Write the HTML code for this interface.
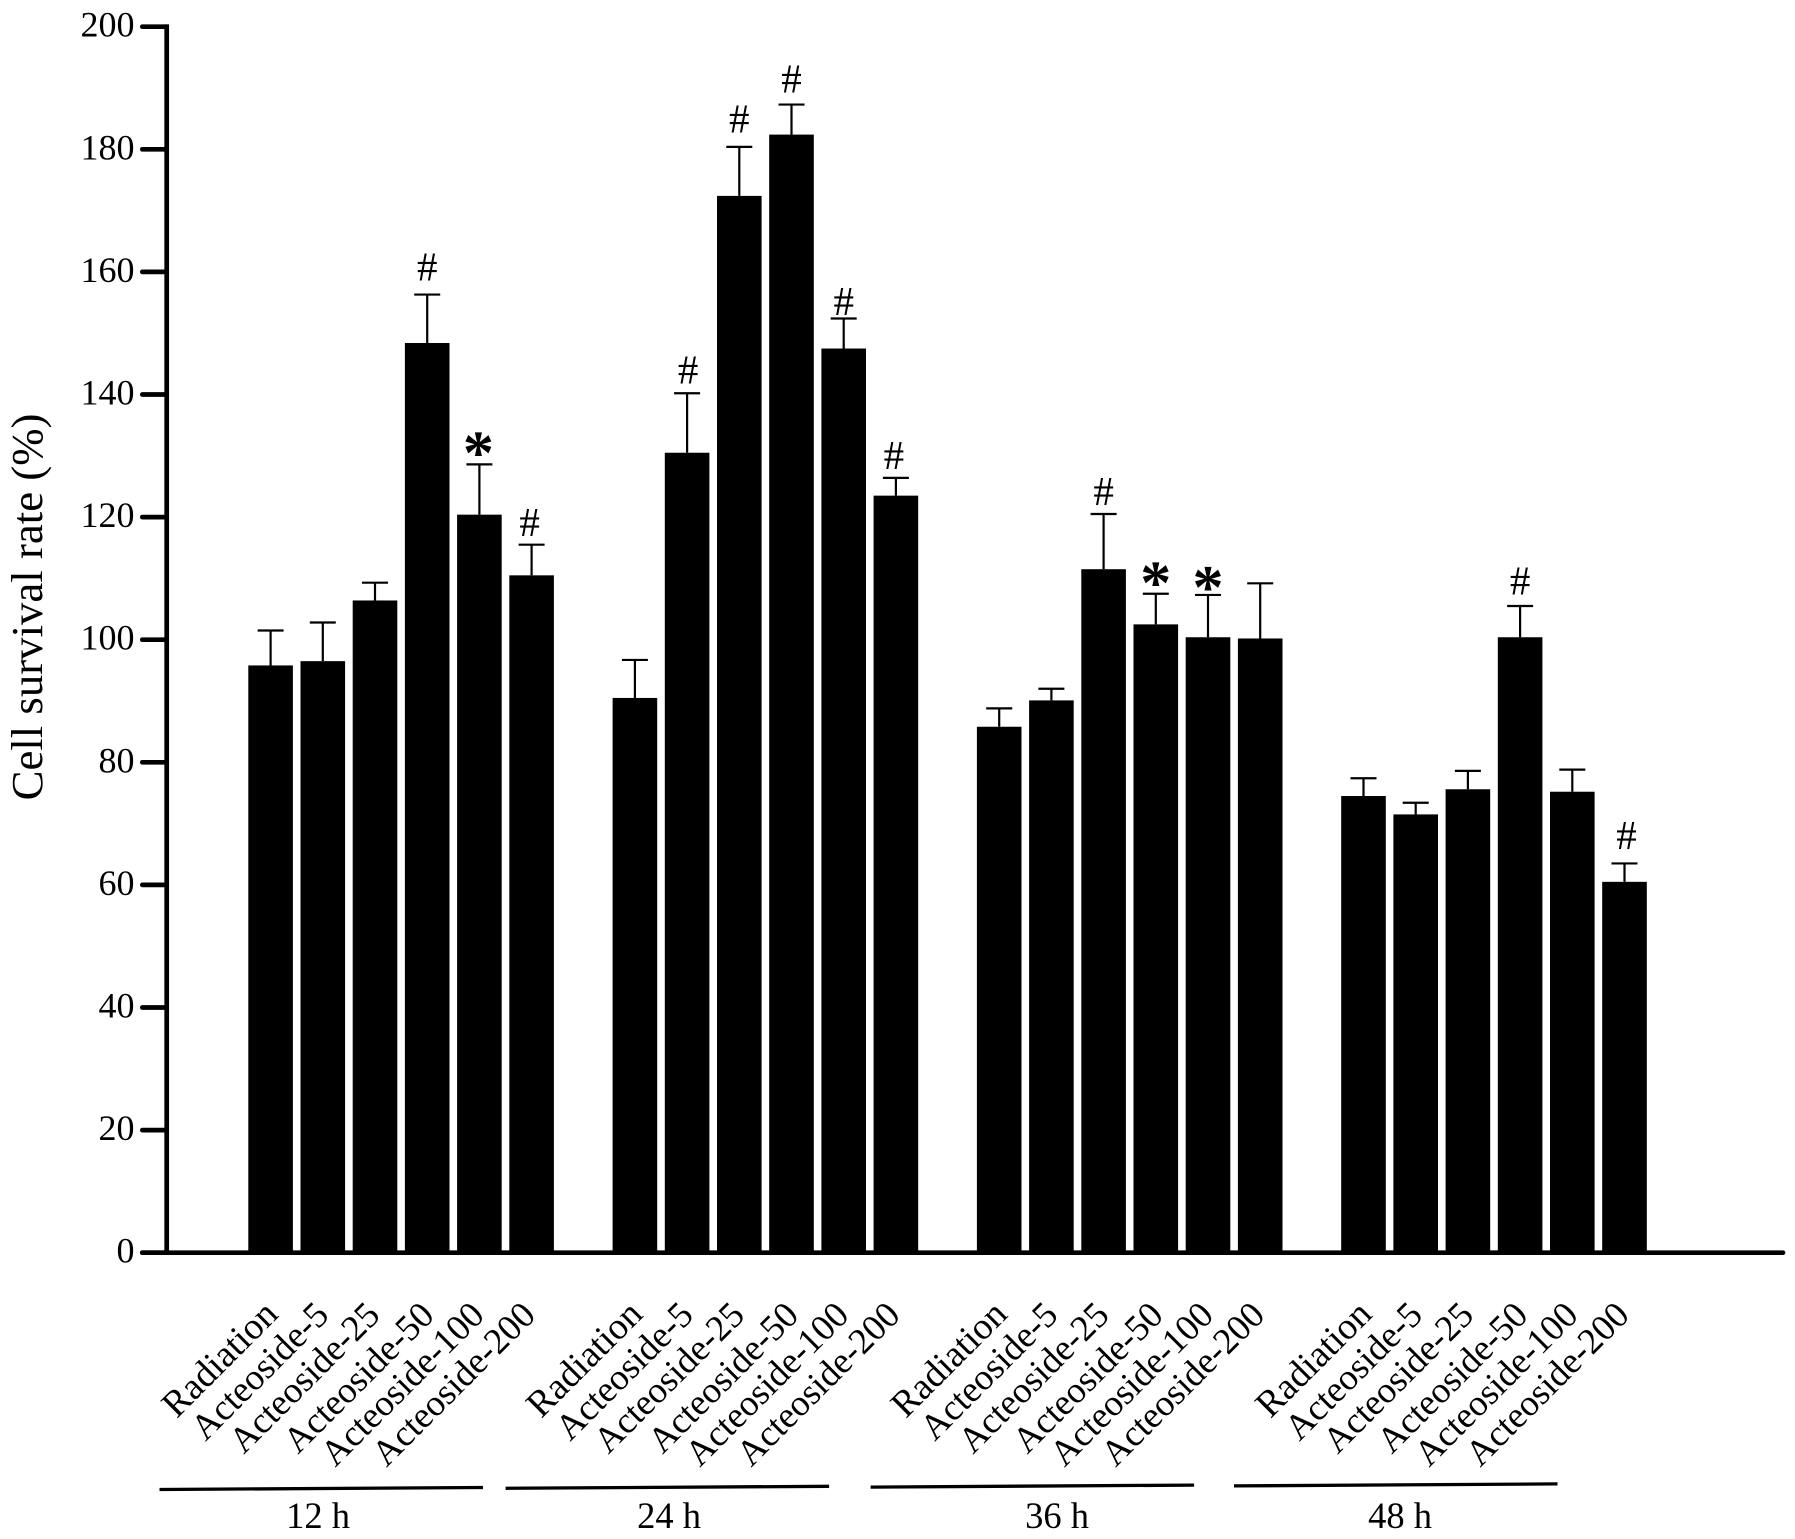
<!DOCTYPE html>
<html lang="en">
<head>
<meta charset="utf-8">
<title>Cell survival rate chart</title>
<style>
  html, body { margin: 0; padding: 0; background: #fff; }
  svg { display: block; }
  text { font-family: "Liberation Serif", serif; fill: #000; }
</style>
</head>
<body>
<svg id="chart" width="1795" height="1539" viewBox="0 0 1795 1539" xmlns="http://www.w3.org/2000/svg">
  <text transform="translate(42,607) rotate(-90)" text-anchor="middle" font-size="44.8">Cell survival rate (%)</text>
</svg>
<script>
const groups = ['12 h', '24 h', '36 h', '48 h'];
const categories = ['Radiation', 'Acteoside-5', 'Acteoside-25', 'Acteoside-50', 'Acteoside-100', 'Acteoside-200'];
const yTicks = [0, 20, 40, 60, 80, 100, 120, 140, 160, 180, 200];
const values12h = [95.8, 96.5, 106.4, 148.4, 120.4, 110.5];
const values24h = [90.5, 130.5, 172.4, 182.4, 147.5, 123.5];
const values36h = [85.8, 90.1, 111.5, 102.5, 100.4, 100.2];
const values48h = [74.5, 71.5, 75.6, 100.4, 75.2, 60.5];
const errorTop12h = [101.5, 102.8, 109.3, 156.3, 128.6, 115.5];
const errorTop24h = [96.7, 140.2, 180.4, 187.3, 152.4, 126.4];
const errorTop36h = [88.8, 92.0, 120.5, 107.5, 107.3, 109.2];
const errorTop48h = [77.4, 73.4, 78.6, 105.5, 78.8, 63.5];
const marks12h = ['', '', '', '#', '*', '#'];
const marks24h = ['', '#', '#', '#', '#', '#'];
const marks36h = ['', '', '#', '*', '*', ''];
const marks48h = ['', '', '', '#', '', '#'];

const seriesValues = [values12h, values24h, values36h, values48h];
const seriesErrors = [errorTop12h, errorTop24h, errorTop36h, errorTop48h];
const seriesMarks = [marks12h, marks24h, marks36h, marks48h];

const svg = document.getElementById('chart');
const NS = 'http://www.w3.org/2000/svg';
const Y0 = 1252.7, Y200 = 26.7, AXIS_X = 166.7, AXIS_END = 1783, TICK_LEFT = 142.3;
const BAR_W = 44.6, PITCH = 52.2, FIRST_BAR = 248.3, GROUP_STEP = 364.3;

/* layout offsets: slanted labels, group brackets, annotation nudges */
const labelOffsetX = [9, 7.5, 6.5, 8.5, 6.5, 5.5];
const labelBaseY = [1316, 1317, 1317, 1317, 1317, 1317];
const labelFontSize = [37.5, 36.6, 36.6, 36.6, 36.6, 36.6];
const bracketStart = [159.5, 505.6, 870.6, 1234];
const groupLabelCenter = [318, 669, 1057, 1400];
const markNudgeY = [
  [0, 0, 0, -1, 1, 4.5],
  [0, 3.5, -1, 1, 10, 4.5],
  [0, 0, 4.5, 2, 5, 0],
  [0, 0, 0, 2, 0, -1]
];
const markNudgeX = [
  [0, 0, 0, 0, -1, -2],
  [0, 1, 0, 0, 0, -2],
  [0, 0, 0, 0, 0, 0],
  [0, 0, 0, 0, 0, 2]
];

function yScale(v) { return Y0 - (v / 200) * (Y0 - Y200); }
function xBar(g, i) { return FIRST_BAR + g * GROUP_STEP + i * PITCH; }

function make(tag, attrs, text) {
  const el = document.createElementNS(NS, tag);
  for (const k in attrs) el.setAttribute(k, attrs[k]);
  if (text !== undefined) el.textContent = text;
  svg.appendChild(el);
  return el;
}

/* bars and error bars */
groups.forEach(function (group, g) {
  categories.forEach(function (cat, i) {
    const x = xBar(g, i), cx = x + BAR_W / 2;
    const top = yScale(seriesValues[g][i]);
    const errY = yScale(seriesErrors[g][i]);

    const stem = make('line', { x1: cx, x2: cx, y1: top, y2: errY, stroke: '#000', 'stroke-width': 2.2 });
    
    

    const cap = make('line', { x1: cx - 13, x2: cx + 13, y1: errY, y2: errY, stroke: '#000', 'stroke-width': 2.2 });
    
    

    const bar = make('rect', { x: x, y: top, width: BAR_W, height: Y0 - top, fill: '#000' });
    
    

    const mark = seriesMarks[g][i];
    const mx = cx + markNudgeX[g][i], my = errY + markNudgeY[g][i];
    if (mark === '#') {
      const m = make('text', { x: mx, y: my - 13.3, 'text-anchor': 'middle', 'font-size': 41 }, '#');
      
      
    } else if (mark === '*') {
      const m = make('text', { x: mx, y: my + 8, 'text-anchor': 'middle', 'font-size': 62, 'font-weight': 'bold' }, '*');
      
      
    }

    const lab = make('text', {
      transform: 'translate(' + (x + 22.5 + labelOffsetX[i] + g * 0.3) + ',' + labelBaseY[i] + ') rotate(-45)',
      'text-anchor': 'end', 'font-size': labelFontSize[i]
    }, cat);
    
    
  });
});

/* axes */
const yAxis = make('line', { x1: AXIS_X, x2: AXIS_X, y1: Y200 - 2.35, y2: Y0 + 2.35, stroke: '#000', 'stroke-width': 4.7 });



const xAxis = make('line', { x1: TICK_LEFT, x2: AXIS_END, y1: Y0, y2: Y0, stroke: '#000', 'stroke-width': 4.7, 'stroke-linecap': 'round' });



yTicks.forEach(function (t) {
  const y = yScale(t);
  const tick = make('line', { x1: TICK_LEFT, x2: AXIS_X, y1: y, y2: y, stroke: '#000', 'stroke-width': 4.7, 'stroke-linecap': 'round' });
  
  

  const label = make('text', { x: 134.5, y: y + 10, 'text-anchor': 'end', 'font-size': 36 }, String(t));
  
  
});

/* group brackets and labels */
groups.forEach(function (group, g) {
  const x1 = bracketStart[g], x2 = x1 + 323.5;
  const drop = g * 1.2;
  const br = make('line', { x1: x1, x2: x2, y1: 1489.5 - drop, y2: 1487.5 - drop, stroke: '#000', 'stroke-width': 3.3 });
  
  

  const gl = make('text', { x: groupLabelCenter[g], y: 1528, 'text-anchor': 'middle', 'font-size': 36.5 }, group);
  
  
});
</script>
</body>
</html>
